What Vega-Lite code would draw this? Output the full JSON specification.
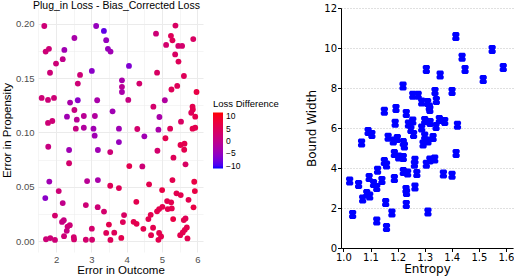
{
  "$schema": "https://vega.github.io/schema/vega-lite/v6.json",
  "padding": {"left": 1, "top": 0, "right": 0, "bottom": 0},
  "spacing": 102,
  "config": {"view": {"stroke": null}},
  "datasets": {
    "left": [
      {"outcome_err":1.668,"prop_err":0.198,"loss_diff":2},{"outcome_err":3.136,"prop_err":0.198,"loss_diff":-5},{"outcome_err":3.355,"prop_err":0.1935,"loss_diff":-9},{"outcome_err":2.52,"prop_err":0.187,"loss_diff":-3},{"outcome_err":3.42,"prop_err":0.185,"loss_diff":-5},{"outcome_err":1.707,"prop_err":0.1745,"loss_diff":2},{"outcome_err":1.8,"prop_err":0.177,"loss_diff":2},{"outcome_err":2.236,"prop_err":0.176,"loss_diff":-4},{"outcome_err":3.469,"prop_err":0.177,"loss_diff":-5},{"outcome_err":3.543,"prop_err":0.1745,"loss_diff":-4},{"outcome_err":2.19,"prop_err":0.1675,"loss_diff":0},{"outcome_err":2.0,"prop_err":0.1634,"loss_diff":2},{"outcome_err":3.014,"prop_err":0.1567,"loss_diff":-6},{"outcome_err":1.83,"prop_err":0.155,"loss_diff":2},{"outcome_err":2.68,"prop_err":0.153,"loss_diff":2},{"outcome_err":4.065,"prop_err":0.1613,"loss_diff":-7},{"outcome_err":2.617,"prop_err":0.145,"loss_diff":2},{"outcome_err":3.866,"prop_err":0.148,"loss_diff":-3},{"outcome_err":3.866,"prop_err":0.142,"loss_diff":-1},{"outcome_err":3.866,"prop_err":0.1373,"loss_diff":-3},{"outcome_err":4.358,"prop_err":0.145,"loss_diff":3},{"outcome_err":1.594,"prop_err":0.1318,"loss_diff":2},{"outcome_err":1.773,"prop_err":0.13,"loss_diff":2},{"outcome_err":1.943,"prop_err":0.1318,"loss_diff":2},{"outcome_err":2.398,"prop_err":0.1275,"loss_diff":-3},{"outcome_err":2.616,"prop_err":0.1297,"loss_diff":-6},{"outcome_err":3.165,"prop_err":0.1297,"loss_diff":-3},{"outcome_err":4.045,"prop_err":0.13,"loss_diff":1},{"outcome_err":2.52,"prop_err":0.1207,"loss_diff":1},{"outcome_err":3.6,"prop_err":0.1195,"loss_diff":-4},{"outcome_err":2.31,"prop_err":0.1146,"loss_diff":-4},{"outcome_err":2.787,"prop_err":0.1152,"loss_diff":-1},{"outcome_err":3.1,"prop_err":0.1152,"loss_diff":-2},{"outcome_err":2.588,"prop_err":0.1118,"loss_diff":-1},{"outcome_err":1.773,"prop_err":0.1088,"loss_diff":2},{"outcome_err":1.895,"prop_err":0.1106,"loss_diff":2},{"outcome_err":2.56,"prop_err":0.1035,"loss_diff":1},{"outcome_err":2.787,"prop_err":0.1044,"loss_diff":-2},{"outcome_err":3.06,"prop_err":0.1035,"loss_diff":-4},{"outcome_err":3.781,"prop_err":0.1035,"loss_diff":-4},
      {"outcome_err":5.38,"prop_err":0.1984,"loss_diff":4},{"outcome_err":4.83,"prop_err":0.191,"loss_diff":2},{"outcome_err":5.253,"prop_err":0.189,"loss_diff":5},{"outcome_err":5.295,"prop_err":0.1848,"loss_diff":5},{"outcome_err":5.884,"prop_err":0.186,"loss_diff":4},{"outcome_err":5.116,"prop_err":0.1806,"loss_diff":3},{"outcome_err":5.46,"prop_err":0.1797,"loss_diff":3},{"outcome_err":5.568,"prop_err":0.1797,"loss_diff":3},{"outcome_err":5.372,"prop_err":0.1719,"loss_diff":4},{"outcome_err":5.466,"prop_err":0.1653,"loss_diff":5},{"outcome_err":4.86,"prop_err":0.1551,"loss_diff":4},{"outcome_err":5.62,"prop_err":0.152,"loss_diff":5},{"outcome_err":5.267,"prop_err":0.1396,"loss_diff":5},{"outcome_err":5.43,"prop_err":0.1429,"loss_diff":5},{"outcome_err":5.977,"prop_err":0.1373,"loss_diff":7},{"outcome_err":5.08,"prop_err":0.1297,"loss_diff":-2},{"outcome_err":4.756,"prop_err":0.1238,"loss_diff":3},{"outcome_err":5.864,"prop_err":0.1238,"loss_diff":6},{"outcome_err":5.872,"prop_err":0.1212,"loss_diff":6},{"outcome_err":5.827,"prop_err":0.1182,"loss_diff":5},{"outcome_err":5.94,"prop_err":0.1146,"loss_diff":6},{"outcome_err":4.926,"prop_err":0.1143,"loss_diff":-3},{"outcome_err":5.537,"prop_err":0.11,"loss_diff":4},{"outcome_err":4.3,"prop_err":0.1032,"loss_diff":3},{"outcome_err":4.898,"prop_err":0.1026,"loss_diff":-3},{"outcome_err":5.23,"prop_err":0.1035,"loss_diff":5},{"outcome_err":5.864,"prop_err":0.1035,"loss_diff":6},{"outcome_err":5.94,"prop_err":0.1044,"loss_diff":6},
      {"outcome_err":1.78,"prop_err":0.0869,"loss_diff":1},{"outcome_err":2.37,"prop_err":0.0839,"loss_diff":-4},{"outcome_err":2.37,"prop_err":0.0717,"loss_diff":3},{"outcome_err":3.094,"prop_err":0.0971,"loss_diff":-4},{"outcome_err":3.78,"prop_err":0.0912,"loss_diff":-5},{"outcome_err":3.185,"prop_err":0.0839,"loss_diff":-4},{"outcome_err":3.534,"prop_err":0.082,"loss_diff":2},{"outcome_err":1.81,"prop_err":0.0548,"loss_diff":-4},{"outcome_err":2.88,"prop_err":0.0553,"loss_diff":-1},{"outcome_err":3.185,"prop_err":0.0562,"loss_diff":-3},{"outcome_err":3.534,"prop_err":0.051,"loss_diff":5},{"outcome_err":3.78,"prop_err":0.0488,"loss_diff":5},{"outcome_err":2.077,"prop_err":0.0461,"loss_diff":2},{"outcome_err":1.696,"prop_err":0.0396,"loss_diff":-6},{"outcome_err":2.19,"prop_err":0.035,"loss_diff":0},{"outcome_err":2.844,"prop_err":0.0332,"loss_diff":2},{"outcome_err":3.18,"prop_err":0.0313,"loss_diff":2},{"outcome_err":3.358,"prop_err":0.0272,"loss_diff":3},{"outcome_err":1.97,"prop_err":0.0235,"loss_diff":3},{"outcome_err":2.22,"prop_err":0.0192,"loss_diff":1},{"outcome_err":2.17,"prop_err":0.0177,"loss_diff":1},{"outcome_err":2.39,"prop_err":0.0147,"loss_diff":2},{"outcome_err":2.327,"prop_err":0.0134,"loss_diff":2},{"outcome_err":2.304,"prop_err":0.0095,"loss_diff":1},{"outcome_err":2.227,"prop_err":0.0046,"loss_diff":2},{"outcome_err":3.014,"prop_err":0.0115,"loss_diff":3},{"outcome_err":3.497,"prop_err":0.0152,"loss_diff":6},{"outcome_err":3.42,"prop_err":0.0076,"loss_diff":5},{"outcome_err":3.648,"prop_err":0.0078,"loss_diff":5},{"outcome_err":1.716,"prop_err":0.0017,"loss_diff":2},{"outcome_err":1.838,"prop_err":0.0028,"loss_diff":2},{"outcome_err":1.97,"prop_err":0.0011,"loss_diff":2},{"outcome_err":2.503,"prop_err":0.0037,"loss_diff":3},{"outcome_err":2.51,"prop_err":0.0016,"loss_diff":3},{"outcome_err":2.844,"prop_err":0.0013,"loss_diff":3},{"outcome_err":3.02,"prop_err":0.0013,"loss_diff":3},{"outcome_err":3.54,"prop_err":0.0011,"loss_diff":5},{"outcome_err":3.847,"prop_err":0.003,"loss_diff":6},{"outcome_err":3.926,"prop_err":0.024,"loss_diff":4},{"outcome_err":3.892,"prop_err":0.0175,"loss_diff":5},
      {"outcome_err":4.5,"prop_err":0.0965,"loss_diff":-4},{"outcome_err":5.097,"prop_err":0.0947,"loss_diff":6},{"outcome_err":5.523,"prop_err":0.0885,"loss_diff":6},{"outcome_err":5.636,"prop_err":0.0897,"loss_diff":6},{"outcome_err":5.628,"prop_err":0.0841,"loss_diff":6},{"outcome_err":4.87,"prop_err":0.0832,"loss_diff":3},{"outcome_err":5.324,"prop_err":0.0768,"loss_diff":5},{"outcome_err":5.665,"prop_err":0.0707,"loss_diff":4},{"outcome_err":4.074,"prop_err":0.0691,"loss_diff":6},{"outcome_err":4.443,"prop_err":0.0688,"loss_diff":2},{"outcome_err":5.295,"prop_err":0.0562,"loss_diff":6},{"outcome_err":5.912,"prop_err":0.0547,"loss_diff":7},{"outcome_err":4.634,"prop_err":0.0523,"loss_diff":6},{"outcome_err":5.003,"prop_err":0.047,"loss_diff":7},{"outcome_err":5.41,"prop_err":0.044,"loss_diff":6},{"outcome_err":5.53,"prop_err":0.0424,"loss_diff":6},{"outcome_err":5.929,"prop_err":0.0461,"loss_diff":7},{"outcome_err":5.75,"prop_err":0.038,"loss_diff":6},{"outcome_err":4.273,"prop_err":0.0362,"loss_diff":6},{"outcome_err":5.145,"prop_err":0.0369,"loss_diff":6},{"outcome_err":5.259,"prop_err":0.0357,"loss_diff":6},{"outcome_err":5.011,"prop_err":0.0316,"loss_diff":6},{"outcome_err":4.918,"prop_err":0.0295,"loss_diff":6},{"outcome_err":4.86,"prop_err":0.0274,"loss_diff":6},{"outcome_err":5.162,"prop_err":0.0295,"loss_diff":6},{"outcome_err":5.276,"prop_err":0.0301,"loss_diff":6},{"outcome_err":5.892,"prop_err":0.0311,"loss_diff":7},{"outcome_err":4.68,"prop_err":0.0242,"loss_diff":6},{"outcome_err":4.614,"prop_err":0.0203,"loss_diff":6},{"outcome_err":5.315,"prop_err":0.0203,"loss_diff":7},{"outcome_err":5.665,"prop_err":0.0209,"loss_diff":5},{"outcome_err":5.616,"prop_err":0.0194,"loss_diff":6},{"outcome_err":4.196,"prop_err":0.0178,"loss_diff":6},{"outcome_err":4.28,"prop_err":0.0159,"loss_diff":6},{"outcome_err":5.702,"prop_err":0.0126,"loss_diff":6},{"outcome_err":5.645,"prop_err":0.0104,"loss_diff":6},{"outcome_err":5.588,"prop_err":0.008,"loss_diff":6},{"outcome_err":5.514,"prop_err":0.0055,"loss_diff":6},{"outcome_err":4.472,"prop_err":0.0113,"loss_diff":6},{"outcome_err":4.747,"prop_err":0.0123,"loss_diff":6},{"outcome_err":4.918,"prop_err":0.0076,"loss_diff":6},{"outcome_err":4.974,"prop_err":0.0043,"loss_diff":6},{"outcome_err":4.898,"prop_err":0.0012,"loss_diff":6},{"outcome_err":4.69,"prop_err":0.0055,"loss_diff":6},{"outcome_err":5.72,"prop_err":0.0025,"loss_diff":6}
    ],
    "right": [
      {"entropy":1.415,"bound_width":10.57},{"entropy":1.549,"bound_width":9.93},{"entropy":1.438,"bound_width":9.54},{"entropy":1.306,"bound_width":8.93},{"entropy":1.449,"bound_width":8.93},{"entropy":1.59,"bound_width":9.02},{"entropy":1.357,"bound_width":8.65},{"entropy":1.516,"bound_width":8.42},{"entropy":1.22,"bound_width":8.1},{"entropy":1.338,"bound_width":7.83},{"entropy":1.401,"bound_width":7.83},{"entropy":1.256,"bound_width":7.64},{"entropy":1.276,"bound_width":7.64},{"entropy":1.343,"bound_width":7.38},{"entropy":1.289,"bound_width":7.3},{"entropy":1.311,"bound_width":7.27},{"entropy":1.317,"bound_width":7.05},{"entropy":1.319,"bound_width":6.93},{"entropy":1.151,"bound_width":6.84},{"entropy":1.194,"bound_width":6.98},{"entropy":1.232,"bound_width":6.73},{"entropy":1.256,"bound_width":6.35},{"entropy":1.191,"bound_width":6.24},{"entropy":1.24,"bound_width":6.2},{"entropy":1.249,"bound_width":5.93},{"entropy":1.259,"bound_width":5.68},{"entropy":1.3,"bound_width":6.38},{"entropy":1.32,"bound_width":6.28},{"entropy":1.342,"bound_width":6.08},{"entropy":1.354,"bound_width":6.43},{"entropy":1.374,"bound_width":6.33},{"entropy":1.421,"bound_width":6.14},{"entropy":1.289,"bound_width":6.0},{"entropy":1.091,"bound_width":5.83},{"entropy":1.105,"bound_width":5.68},{"entropy":1.165,"bound_width":5.54},{"entropy":1.199,"bound_width":5.48},{"entropy":1.184,"bound_width":5.35},{"entropy":1.221,"bound_width":5.27},{"entropy":1.225,"bound_width":5.1},{"entropy":1.067,"bound_width":5.25},{"entropy":1.3,"bound_width":5.6},{"entropy":1.312,"bound_width":5.35},{"entropy":1.331,"bound_width":5.52},{"entropy":1.294,"bound_width":5.2},{"entropy":1.188,"bound_width":4.72},{"entropy":1.204,"bound_width":4.55},{"entropy":1.221,"bound_width":4.52},{"entropy":1.264,"bound_width":4.39},{"entropy":1.262,"bound_width":4.19},{"entropy":1.306,"bound_width":4.19},{"entropy":1.319,"bound_width":4.4},{"entropy":1.337,"bound_width":4.45},{"entropy":1.416,"bound_width":4.73},{"entropy":1.151,"bound_width":4.32},{"entropy":1.159,"bound_width":4.15},{"entropy":1.126,"bound_width":3.89},{"entropy":1.221,"bound_width":3.82},{"entropy":1.237,"bound_width":3.75},{"entropy":1.271,"bound_width":3.72},{"entropy":1.369,"bound_width":3.7},{"entropy":1.401,"bound_width":3.64},{"entropy":1.023,"bound_width":3.35},{"entropy":1.056,"bound_width":3.18},{"entropy":1.095,"bound_width":3.52},{"entropy":1.111,"bound_width":3.22},{"entropy":1.123,"bound_width":3.02},{"entropy":1.142,"bound_width":3.38},{"entropy":1.188,"bound_width":3.47},{"entropy":1.231,"bound_width":2.93},{"entropy":1.233,"bound_width":2.77},{"entropy":1.264,"bound_width":3.05},{"entropy":1.086,"bound_width":2.72},{"entropy":1.097,"bound_width":2.6},{"entropy":1.071,"bound_width":2.45},{"entropy":1.156,"bound_width":2.27},{"entropy":1.232,"bound_width":2.18},{"entropy":1.179,"bound_width":1.75},{"entropy":1.034,"bound_width":1.68},{"entropy":1.123,"bound_width":1.35},{"entropy":1.159,"bound_width":1.02},{"entropy":1.312,"bound_width":1.8}
    ]
  },
  "hconcat": [
    {
      "width": 165,
      "height": 244,
      "title": {"text": "Plug_in Loss - Bias_Corrected Loss", "anchor": "start", "frame": "group", "dx": -5, "font": "Liberation Sans", "fontSize": 10.5, "fontWeight": "normal", "color": "#000000", "offset": -3},
      "data": {"name": "left"},
      "mark": {"type": "point", "filled": true, "shape": "circle", "size": 34, "opacity": 1},
      "encoding": {
        "x": {
          "field": "outcome_err", "type": "quantitative",
          "scale": {"domain": [1.49, 6.16], "nice": false, "zero": false},
          "axis": {
            "title": "Error in Outcome",
            "values": [1.5, 2, 2.5, 3, 3.5, 4, 4.5, 5, 5.5, 6],
            "labelExpr": "datum.value % 1 == 0 ? format(datum.value, 'd') : ''",
            "domain": false, "ticks": false, "grid": true,
            "gridColor": "#EBEBEB",
            "gridWidth": {"condition": {"test": "datum.value % 1 == 0", "value": 1}, "value": 0.5},
            "labelFont": "Liberation Sans", "labelFontSize": 9.5, "labelColor": "#4D4D4D", "labelPadding": 2,
            "titleFont": "Liberation Sans", "titleFontSize": 11.5, "titleFontWeight": "normal", "titleColor": "#000000", "titlePadding": 1
          }
        },
        "y": {
          "field": "prop_err", "type": "quantitative",
          "scale": {"domain": [-0.01, 0.2146], "nice": false, "zero": false},
          "axis": {
            "title": "Error in Propensity",
            "values": [0, 0.025, 0.05, 0.075, 0.1, 0.125, 0.15, 0.175, 0.2],
            "labelExpr": "abs(datum.value*20 - round(datum.value*20)) < 0.000001 ? format(datum.value, '.2f') : ''",
            "domain": false, "ticks": false, "grid": true,
            "gridColor": "#EBEBEB",
            "gridWidth": {"condition": {"test": "abs(datum.value*20 - round(datum.value*20)) < 0.000001", "value": 1}, "value": 0.5},
            "labelFont": "Liberation Sans", "labelFontSize": 9.5, "labelColor": "#4D4D4D", "labelPadding": 4,
            "titleFont": "Liberation Sans", "titleFontSize": 11.5, "titleFontWeight": "normal", "titleColor": "#000000", "titlePadding": 3
          }
        },
        "color": {
          "field": "loss_diff", "type": "quantitative",
          "scale": {"domain": [-11.2, 11.6], "range": ["#0000ff", "#ff0000"], "interpolate": "lab"},
          "legend": {
            "title": "Loss Difference", "orient": "none", "legendX": 175, "legendY": 91,
            "direction": "vertical", "gradientLength": 56, "gradientThickness": 10,
            "values": [-10, -5, 0, 5, 10],
            "titleFont": "Liberation Sans", "titleFontSize": 9.5, "titleFontWeight": "normal", "titleColor": "#000000", "titlePadding": 4,
            "labelFont": "Liberation Sans", "labelFontSize": 8.5, "labelColor": "#000000", "labelOffset": 3
          }
        }
      }
    },
    {
      "width": 172,
      "height": 240,
      "data": {"name": "right"},
      "mark": {"type": "point", "filled": true, "shape": "M-0.55,-1 L0.55,-1 L0.8,-0.7 L0.8,-0.25 L0.6,0 L0.8,0.25 L0.8,0.7 L0.55,1 L-0.55,1 L-0.8,0.7 L-0.8,0.25 L-0.6,0 L-0.8,-0.25 L-0.8,-0.7 Z", "size": 81, "color": "#0000ff", "opacity": 1},
      "encoding": {
        "x": {
          "field": "entropy", "type": "quantitative",
          "scale": {"domain": [0.991, 1.626], "nice": false, "zero": false},
          "axis": {
            "title": "Entropy", "values": [1.0, 1.1, 1.2, 1.3, 1.4, 1.5, 1.6], "format": ".1f",
            "grid": false, "domainColor": "#000000", "domainWidth": 1, "tickColor": "#000000", "tickSize": 3.5,
            "labelFont": "DejaVu Sans", "labelFontSize": 10, "labelColor": "#000000", "labelPadding": 1,
            "titleFont": "DejaVu Sans", "titleFontSize": 12, "titleFontWeight": "normal", "titleColor": "#000000", "titlePadding": 1
          }
        },
        "y": {
          "field": "bound_width", "type": "quantitative",
          "scale": {"domain": [0, 12], "nice": false, "zero": false},
          "axis": {
            "title": "Bound Width", "values": [0, 2, 4, 6, 8, 10, 12], "format": "d",
            "grid": true, "gridDash": [1, 2], "gridColor": "#b0b0b0", "gridWidth": 0.8,
            "domainColor": "#000000", "domainWidth": 1, "tickColor": "#000000", "tickSize": 3.5,
            "labelFont": "DejaVu Sans", "labelFontSize": 10, "labelColor": "#000000", "labelPadding": 1,
            "titleFont": "DejaVu Sans", "titleFontSize": 12, "titleFontWeight": "normal", "titleColor": "#000000", "titlePadding": 5
          }
        }
      }
    }
  ]
}
